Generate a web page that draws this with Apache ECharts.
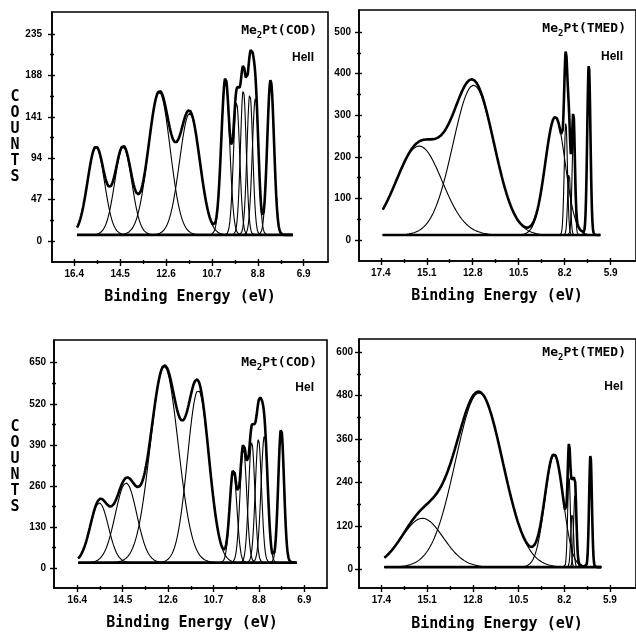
<!DOCTYPE html>
<html>
<head>
<meta charset="utf-8">
<script src="https://cdn.jsdelivr.net/npm/echarts@6/dist/echarts.min.js"></script>
<style>
html, body { margin: 0; padding: 0; background: #fff; }
#chart { width: 636px; height: 632px; }
</style>
</head>
<body>
<div id="chart"></div>
<script>
// fitted band parameters: centre (eV), height above background (counts), width sigma (eV)
const codHeIICenters = [15.50, 14.37, 12.88, 11.62, 10.14, 9.68, 9.40, 9.13, 8.90, 8.27]
const codHeIIHeights = [100, 100, 162, 138, 178, 150, 165, 160, 155, 176]
const codHeIIWidths = [0.35, 0.35, 0.45, 0.42, 0.17, 0.13, 0.12, 0.12, 0.13, 0.14]
const codHeIIBase = 7
const codHeIISpan = [16.28, 7.35]

const tmedHeIICenters = [15.48, 12.76, 8.67, 8.14, 7.98, 7.76, 6.99]
const tmedHeIIHeights = [214, 360, 284, 270, 150, 240, 408]
const tmedHeIIWidths = [1.15, 1.03, 0.50, 0.08, 0.07, 0.07, 0.08]
const tmedHeIIBase = 12
const tmedHeIISpan = [17.30, 6.41]

const codHeICenters = [15.48, 14.36, 12.76, 11.34, 9.87, 9.45, 9.10, 8.82, 8.57, 7.87]
const codHeIHeights = [189, 252, 620, 545, 290, 360, 380, 390, 400, 424]
const codHeIWidths = [0.38, 0.45, 0.58, 0.45, 0.15, 0.14, 0.13, 0.13, 0.14, 0.12]
const codHeIBase = 18
const codHeISpan = [16.36, 7.22]

const tmedHeICenters = [15.34, 12.49, 8.71, 7.96, 7.80, 7.66, 6.88]
const tmedHeIHeights = [135, 482, 310, 250, 150, 200, 310]
const tmedHeIWidths = [1.05, 1.19, 0.46, 0.07, 0.07, 0.07, 0.07]
const tmedHeIBase = 6
const tmedHeISpan = [17.25, 6.33]

// tick labels
const codEnergyTicks = [16.4, 14.5, 12.6, 10.7, 8.8, 6.9]
const tmedEnergyTicks = [17.4, 15.1, 12.8, 10.5, 8.2, 5.9]
const codHeIICountTicks = [0, 47, 94, 141, 188, 235]
const tmedHeIICountTicks = [0, 100, 200, 300, 400, 500]
const codHeICountTicks = [0, 130, 260, 390, 520, 650]
const tmedHeICountTicks = [0, 120, 240, 360, 480, 600]

const tickFont = "'Liberation Sans Narrow', 'Liberation Sans', sans-serif"
const monoFont = "'DejaVu Sans Mono', monospace"

const panels = [
  {
    box: { left: 52, top: 12, width: 276, height: 250 },
    xRange: [5.895, 17.32], yRange: [-23.8, 260],
    xTicks: codEnergyTicks, yTicks: codHeIICountTicks,
    centers: codHeIICenters, heights: codHeIIHeights, widths: codHeIIWidths,
    base: codHeIIBase, span: codHeIISpan,
    ligand: 'Pt(COD)', source: 'HeII', textRight: 317, nameY: 31, sourceY: 58,
    titleX: 190, titleY: 297, countsTop: 89, yMargin: 10
  },
  {
    box: { left: 359, top: 10, width: 280, height: 251 },
    xRange: [4.63, 18.49], yRange: [-50.5, 553],
    xTicks: tmedEnergyTicks, yTicks: tmedHeIICountTicks,
    centers: tmedHeIICenters, heights: tmedHeIIHeights, widths: tmedHeIIWidths,
    base: tmedHeIIBase, span: tmedHeIISpan,
    ligand: 'Pt(TMED)', source: 'HeII', textRight: 626, nameY: 29, sourceY: 57,
    titleX: 497, titleY: 296, countsTop: null, yMargin: 8
  },
  {
    box: { left: 54, top: 340, width: 273, height: 248 },
    xRange: [5.95, 17.375], yRange: [-62.3, 721.8],
    xTicks: codEnergyTicks, yTicks: codHeICountTicks,
    centers: codHeICenters, heights: codHeIHeights, widths: codHeIWidths,
    base: codHeIBase, span: codHeISpan,
    ligand: 'Pt(COD)', source: 'HeI', textRight: 317, nameY: 363, sourceY: 388,
    titleX: 192, titleY: 623, countsTop: 419, yMargin: 8
  },
  {
    box: { left: 359, top: 339, width: 280, height: 249 },
    xRange: [4.59, 18.53], yRange: [-51.7, 636.7],
    xTicks: tmedEnergyTicks, yTicks: tmedHeICountTicks,
    centers: tmedHeICenters, heights: tmedHeIHeights, widths: tmedHeIWidths,
    base: tmedHeIBase, span: tmedHeISpan,
    ligand: 'Pt(TMED)', source: 'HeI', textRight: 626, nameY: 353, sourceY: 387,
    titleX: 497, titleY: 624, countsTop: null, yMargin: 6
  }
]

function halves (ticks) {
  const out = []
  for (let k = 0; k < ticks.length - 1; k++) out.push((ticks[k] + ticks[k + 1]) / 2)
  return out
}

function energies (span) {
  const out = []
  for (let e = span[0]; e >= span[1] - 1e-9; e -= 0.01) out.push(e)
  return out
}

function band (e, c, h, w) {
  return h * Math.exp(-((e - c) * (e - c)) / (2 * w * w))
}

function makeAxis (kind, i, p, ticks, len, inside, main) {
  const range = kind === 'x' ? p.xRange : p.yRange
  return {
    type: 'value',
    gridIndex: i,
    min: range[0],
    max: range[1],
    inverse: kind === 'x',
    position: kind === 'x' ? 'bottom' : 'left',
    axisLine: { show: main, onZero: false, lineStyle: { color: '#000', width: 1.6 } },
    axisTick: {
      show: true, inside: inside, length: len, customValues: ticks,
      lineStyle: { color: '#000', width: 1.4 }
    },
    axisLabel: {
      show: main,
      customValues: ticks,
      margin: kind === 'x' ? 7 : p.yMargin,
      color: '#000',
      fontFamily: tickFont,
      fontWeight: 'bold',
      fontSize: 10,
      formatter: v => kind === 'x' ? v.toFixed(1) : String(Math.round(v))
    },
    splitLine: { show: false }
  }
}

const grid = []
const xAxis = []
const yAxis = []
const series = []
const graphic = []

panels.forEach((p, i) => {
  grid.push(Object.assign({ show: true, borderColor: '#000', borderWidth: 1.6, containLabel: false }, p.box))

  const xMinor = halves(p.xTicks)
  const yMinor = halves(p.yTicks)
  xAxis.push(makeAxis('x', i, p, p.xTicks, 4, false, true))
  xAxis.push(makeAxis('x', i, p, p.xTicks, 3, true, false))
  xAxis.push(makeAxis('x', i, p, xMinor, 2, false, false))
  xAxis.push(makeAxis('x', i, p, xMinor, 2, true, false))
  yAxis.push(makeAxis('y', i, p, p.yTicks, 4, false, true))
  yAxis.push(makeAxis('y', i, p, p.yTicks, 3, true, false))
  yAxis.push(makeAxis('y', i, p, yMinor, 2, false, false))
  yAxis.push(makeAxis('y', i, p, yMinor, 2, true, false))

  const es = energies(p.span)
  const common = {
    type: 'line', xAxisIndex: i * 4, yAxisIndex: i * 4,
    symbol: 'none', silent: true, animation: false
  }

  // background
  series.push(Object.assign({}, common, {
    data: [[p.span[0], p.base], [p.span[1], p.base]],
    lineStyle: { color: '#000', width: 2.6 }
  }))

  // single bands
  p.centers.forEach((c, k) => {
    series.push(Object.assign({}, common, {
      data: es.map(e => [e, p.base + band(e, c, p.heights[k], p.widths[k])]),
      lineStyle: { color: '#000', width: 1.1 }
    }))
  })

  // envelope
  series.push(Object.assign({}, common, {
    data: es.map(e => {
      let s = p.base
      p.centers.forEach((c, k) => { s += band(e, c, p.heights[k], p.widths[k]) })
      return [e, s]
    }),
    lineStyle: { color: '#000', width: 2.6 }
  }))

  // Me2Pt(...) label with subscript
  const bigW = 0.602 * 13
  const ligRight = p.textRight
  const subRight = ligRight - bigW * p.ligand.length
  const meRight = subRight - 0.602 * 9
  graphic.push({
    type: 'text', x: ligRight, y: p.nameY,
    style: { text: p.ligand, font: 'bold 13px ' + monoFont, fill: '#000', textAlign: 'right', textVerticalAlign: 'middle' }
  })
  graphic.push({
    type: 'text', x: subRight, y: p.nameY + 5,
    style: { text: '2', font: 'bold 9px ' + monoFont, fill: '#000', textAlign: 'right', textVerticalAlign: 'middle' }
  })
  graphic.push({
    type: 'text', x: meRight, y: p.nameY,
    style: { text: 'Me', font: 'bold 13px ' + monoFont, fill: '#000', textAlign: 'right', textVerticalAlign: 'middle' }
  })
  graphic.push({
    type: 'text', x: p.textRight - 3, y: p.sourceY,
    style: { text: p.source, font: 'bold 12px ' + "'Liberation Sans', sans-serif", fill: '#000', textAlign: 'right', textVerticalAlign: 'middle' }
  })

  // axis title
  graphic.push({
    type: 'text', x: p.titleX, y: p.titleY,
    style: { text: 'Binding Energy (eV)', font: 'bold 15px ' + monoFont, fill: '#000', textAlign: 'center', textVerticalAlign: 'middle' }
  })

  if (p.countsTop !== null) {
    graphic.push({
      type: 'text', x: 15, y: p.countsTop,
      style: {
        text: 'C\nO\nU\nN\nT\nS', font: 'bold 15px ' + monoFont, fill: '#000',
        textAlign: 'center', textVerticalAlign: 'top', lineHeight: 16
      }
    })
  }
})

const myChart = echarts.init(document.getElementById('chart'), null, { renderer: 'canvas' })
myChart.setOption({
  animation: false,
  backgroundColor: '#fff',
  grid: grid,
  xAxis: xAxis,
  yAxis: yAxis,
  series: series,
  graphic: graphic
})
</script>
</body>
</html>
